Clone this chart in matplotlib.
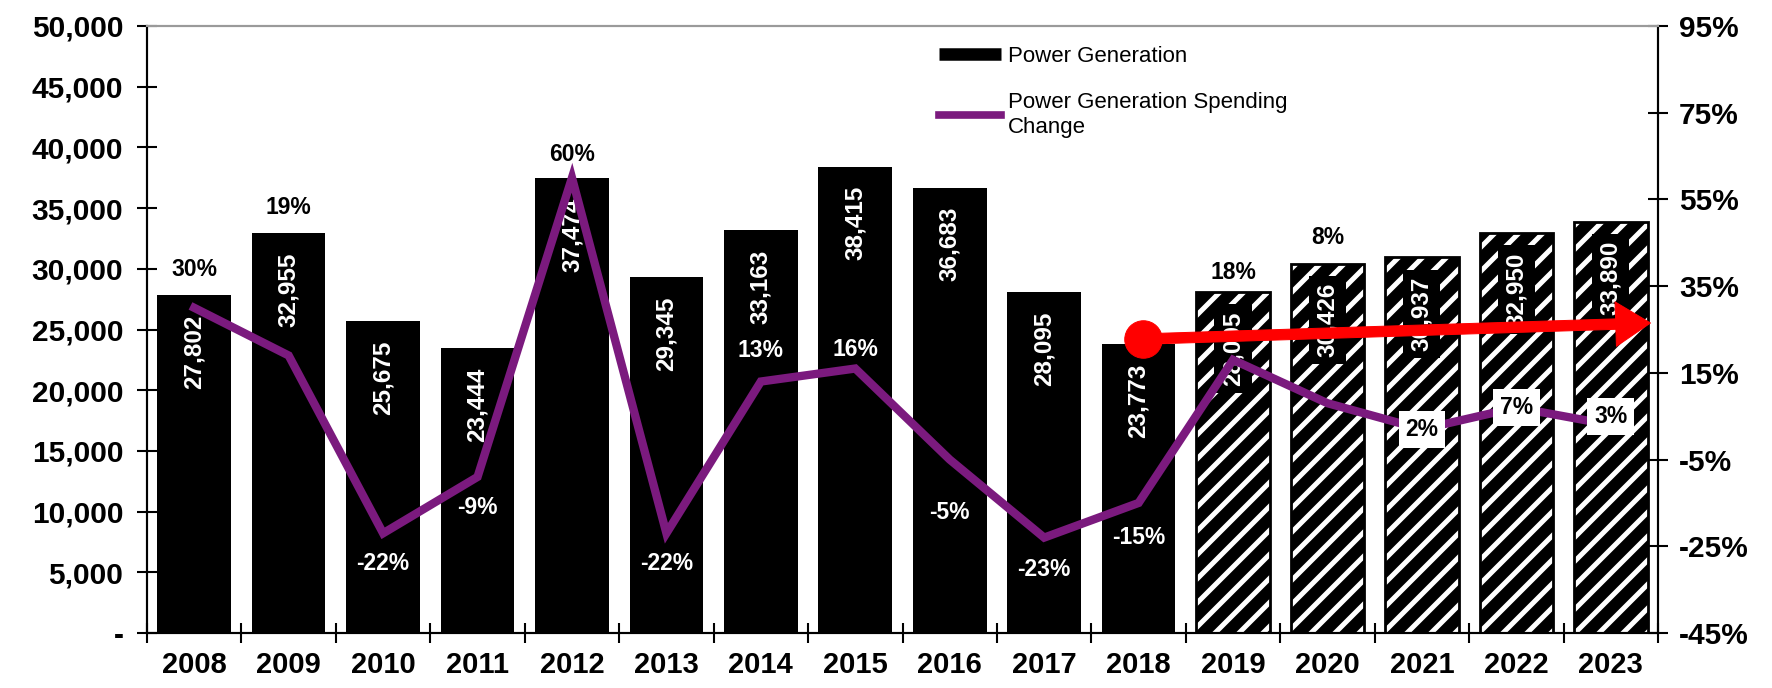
import matplotlib
matplotlib.use('Agg')
import matplotlib.pyplot as plt
from matplotlib.lines import Line2D
from matplotlib.ticker import FuncFormatter, MultipleLocator

# data
years = ['2008', '2009', '2010', '2011', '2012', '2013', '2014', '2015',
         '2016', '2017', '2018', '2019', '2020', '2021', '2022', '2023']
spending = [27802, 32955, 25675, 23444, 37474, 29345, 33163, 38415,
            36683, 28095, 23773, 28095, 30426, 30937, 32950, 33890]
change_pct = [30, 19, -22, -9, 60, -22, 13, 16, -5, -23, -15, 18, 8, 2, 7, 3]
first_forecast = '2019'

# where each % label sits: above the bar top or around the line point (offset, pt at 100 dpi)
pct_anchor = ['bar', 'bar', 'line', 'line', 'bar', 'line', 'line', 'line',
              'line', 'line', 'line', 'bar', 'bar', 'line', 'line', 'line']
pct_offset = [19, 18, -22, -22, 17, -22, 22, 14, -38, -23, -25, 14, 19, 0, 0, 6]

# red trend arrow (x in category units, y on the % axis)
arrow_start = (10.05, 22.8)
arrow_end = (15.42, 26.5)

PURPLE = '#7b1a7e'

# figure is saved at 72 dpi so the hatch stripes get the same spacing as the original;
# sizes below are given as if at 100 dpi and scaled
DPI = 72


def pt(v):
    return v * 100.0 / DPI


plt.rcParams['font.family'] = 'Liberation Sans'
plt.rcParams['hatch.linewidth'] = 5.0

val_size, pct_size = 17.5, 16.5

fig = plt.figure(figsize=(1772 / DPI, 688 / DPI), dpi=DPI)
ax = fig.add_axes([0.08296, 0.07994, 0.85271, 0.88227])
ax2 = ax.twinx()

x = list(range(len(years)))
split = years.index(first_forecast)

# actual years: solid black
ax.bar(x[:split], spending[:split], width=0.78, color='black', zorder=2)
# forecast years: black with white diagonal stripes, black outline
ax.bar(x[split:], spending[split:], width=0.78, facecolor='black',
       edgecolor='white', hatch='/', linewidth=0, zorder=2)
ax.bar(x[split:], spending[split:], width=0.78, fill=False,
       edgecolor='black', linewidth=pt(2), zorder=3)

# value labels inside bars
for i, v in enumerate(spending):
    box = dict(fc='black', ec='none', pad=pt(5)) if i >= split else None
    ax.annotate(f'{v:,}', xy=(i, v), xytext=(0, -pt(14)), textcoords='offset points',
                rotation=90, ha='center', va='top', color='white',
                fontsize=pt(val_size), fontweight='bold', bbox=box, zorder=4)

ax.set_xlim(-0.5, len(years) - 0.5)
ax.set_ylim(0, 50000)
ax.yaxis.set_major_locator(MultipleLocator(5000))
ax.yaxis.set_major_formatter(FuncFormatter(lambda v, p: '-' if v == 0 else f'{v:,.0f}'))
ax.set_xticks(x)
ax.set_xticklabels(years)
ax.set_xticks([i - 0.5 for i in x] + [len(years) - 0.5], minor=True)
ax.tick_params(axis='x', which='major', length=0, pad=pt(13), labelsize=pt(21))
ax.tick_params(axis='x', which='minor', direction='inout', length=pt(14), width=pt(1.5))
ax.tick_params(axis='y', direction='inout', length=pt(14), width=pt(1.5), pad=pt(10),
               labelsize=pt(21.5))
for t in ax.get_xticklabels() + ax.get_yticklabels():
    t.set_fontweight('bold')

# spending change line
ax2.plot(x, change_pct, color=PURPLE, lw=pt(6), solid_joinstyle='miter', zorder=3)
ax2.set_ylim(-45, 95)
ax2.set_yticks(range(-45, 96, 20))
ax2.yaxis.set_major_formatter(FuncFormatter(lambda v, p: f'{v:.0f}%'))
ax2.tick_params(axis='y', direction='inout', length=pt(14), width=pt(1.5), pad=pt(8),
                labelsize=pt(21.5))
for t in ax2.get_yticklabels():
    t.set_fontweight('bold')

# % labels
for i, p in enumerate(change_pct):
    if pct_anchor[i] == 'bar':
        ax.annotate(f'{p}%', xy=(i, spending[i]), xytext=(0, pt(pct_offset[i])),
                    textcoords='offset points', ha='center', va='center',
                    fontsize=pt(pct_size), fontweight='bold', color='black', zorder=5)
    else:
        forecast = i >= split
        box = dict(fc='white', ec='none', pad=pt(5)) if forecast else None
        ax2.annotate(f'{p}%', xy=(i, p), xytext=(0, pt(pct_offset[i])),
                     textcoords='offset points', ha='center', va='center',
                     fontsize=pt(pct_size), fontweight='bold',
                     color='black' if forecast else 'white', bbox=box, zorder=5)

# red trend arrow with dot
ax2.annotate('', xy=arrow_end, xytext=arrow_start,
             arrowprops=dict(width=pt(7.5), headwidth=pt(32), headlength=pt(25), shrink=0,
                             facecolor='#ff0000', edgecolor='#ff0000'),
             zorder=8, annotation_clip=False)
ax2.plot([arrow_start[0]], [arrow_start[1]], 'o', ms=pt(27), color='#ff0000',
         zorder=9, clip_on=False)

for a in (ax, ax2):
    a.spines['top'].set_color('#9a9a9a')
    a.spines['top'].set_linewidth(pt(1.5))
    for s in ('left', 'right', 'bottom'):
        a.spines[s].set_linewidth(pt(1.5))

handles = [Line2D([], [], color='black', lw=pt(9), solid_capstyle='butt'),
           Line2D([], [], color=PURPLE, lw=pt(5.5))]
labels = ['Power Generation', 'Power Generation Spending\nChange']
fig.legend(handles, labels, loc='upper left', bbox_to_anchor=(930 / 1772, 1 - 37 / 688),
           frameon=False, fontsize=pt(16), handlelength=2.8, handletextpad=0.3,
           labelspacing=1.15, borderaxespad=0)

fig.savefig('out.png', dpi=DPI)
